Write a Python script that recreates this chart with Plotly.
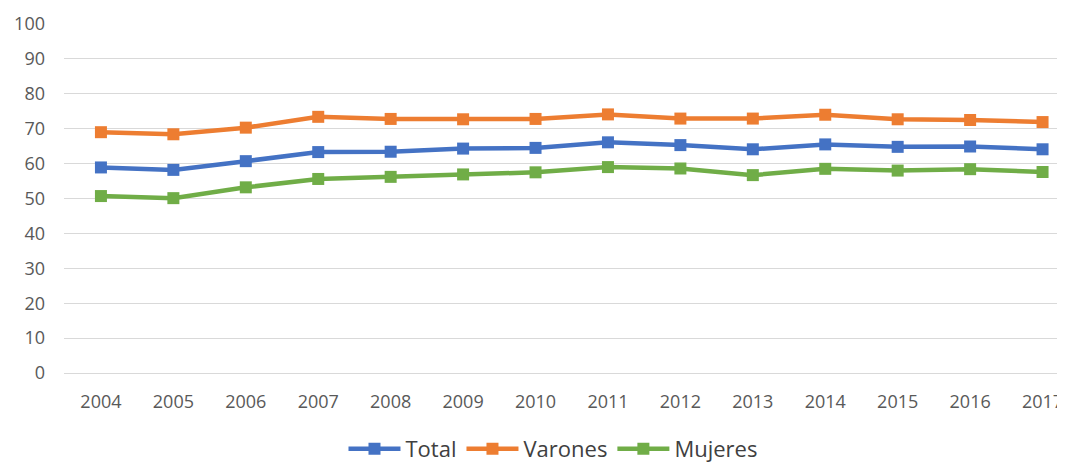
import plotly.graph_objects as go

years = [2004, 2005, 2006, 2007, 2008, 2009, 2010, 2011, 2012, 2013, 2014, 2015, 2016, 2017]
total = [58.9, 58.2, 60.7, 63.3, 63.4, 64.3, 64.5, 66.1, 65.3, 64.1, 65.5, 64.8, 64.9, 64.1]
varones = [69.0, 68.4, 70.3, 73.4, 72.8, 72.7, 72.8, 74.1, 72.9, 72.9, 74.0, 72.7, 72.5, 71.9]
mujeres = [50.7, 50.1, 53.2, 55.6, 56.2, 56.9, 57.5, 59.0, 58.6, 56.7, 58.5, 58.0, 58.4, 57.6]

series = [("Total", total, "#4472C4"), ("Varones", varones, "#ED7D31"), ("Mujeres", mujeres, "#70AD47")]

fig = go.Figure()
for name, vals, color in series:
    fig.add_trace(go.Scatter(
        x=years, y=vals, name=name, mode="lines+markers",
        line=dict(color=color, width=4.5),
        marker=dict(symbol="square", size=12, color=color),
    ))

font_family = "Open Sans, Liberation Sans, sans-serif"
# page body has an 8px margin, so the figure is drawn 8px smaller and offset
fig.update_layout(
    width=1057, height=456,
    margin=dict(l=56, r=0, t=16, b=91, autoexpand=False),
    paper_bgcolor="white", plot_bgcolor="white",
    showlegend=True,
    legend=dict(orientation="h", x=0.4885, xanchor="center", y=-0.2178, yanchor="middle",
                font=dict(family=font_family, size=22, color="#404040"),
                itemwidth=52, tracegroupgap=0),
    font=dict(family=font_family, color="#595959"),
)
fig.update_xaxes(
    range=[2003.49, 2017.31], tickvals=years, ticktext=[str(y) for y in years],
    showgrid=False, zeroline=False, showline=False, automargin=False,
    tickfont=dict(size=18, color="#595959"), ticklabelstandoff=16,
)
fig.update_yaxes(
    range=[0, 100], tick0=0, dtick=10, automargin=False,
    showgrid=True, gridcolor="#d9d9d9", gridwidth=1,
    zeroline=True, zerolinecolor="#d9d9d9", zerolinewidth=1,
    showline=False,
    tickfont=dict(size=18, color="#595959"), ticklabelstandoff=18,
)

fig.write_html("out.html")
